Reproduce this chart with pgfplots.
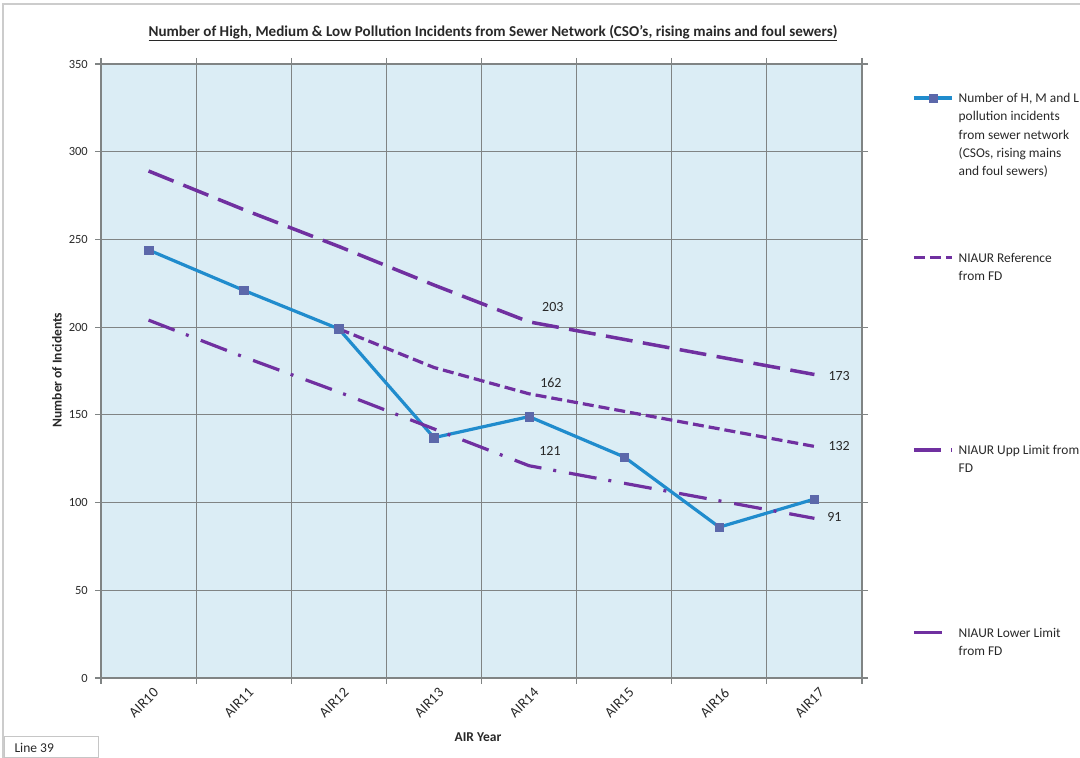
\documentclass[border=0pt]{standalone}
\usepackage{fontspec}
\setmainfont{Carlito}
\usepackage{pgfplots}
\pgfplotsset{compat=1.18}
\definecolor{blueline}{RGB}{32,140,205}
\definecolor{markfill}{RGB}{92,104,170}
\definecolor{purp}{RGB}{112,48,160}
\definecolor{plotbg}{RGB}{219,237,245}
\definecolor{gridc}{RGB}{128,132,132}
\definecolor{txt}{RGB}{40,40,40}
\begin{document}
\begin{tikzpicture}[x=1pt,y=1pt]
\path[use as bounding box] (0,0) rectangle (1080,758);
\draw[gray!40, line width=1.2pt] (3,0) -- (3,754) -- (1080,754);
\node[font=\fontsize{15.1}{17}\selectfont\bfseries, text=txt] at (493,725) {\underline{Number of High, Medium \& Low Pollution Incidents from Sewer Network (CSO's, rising mains and foul sewers)}};
\begin{axis}[
  at={(101pt,80pt)}, anchor=south west,
  width=761pt, height=614pt, scale only axis,
  xmin=-0.5, xmax=7.5, ymin=0, ymax=350,
  xtick={0,...,7},
  xticklabels={AIR10,AIR11,AIR12,AIR13,AIR14,AIR15,AIR16,AIR17},
  minor xtick={-0.5,0.5,...,7.5},
  ytick={0,50,...,350},
  xminorgrids=true, ymajorgrids=true, xmajorgrids=false,
  grid style={gridc, line width=1.2pt},
  minor grid style={gridc, line width=1.2pt},
  major x tick style={draw=none},
  tick align=outside,
  major tick length=6pt, minor tick length=6pt,
  every tick/.style={gridc, line width=1.2pt},
  axis line style={gridc, line width=1.2pt},
  axis background/.style={fill=plotbg},
  tick label style={font=\fontsize{12.5}{15}\selectfont, text=txt},
  /pgf/number format/assume math mode=true,
  xticklabel style={font=\fontsize{14.5}{17}\selectfont, xshift=4pt, rotate=45, anchor=north east, inner sep=2pt},
  yticklabel style={inner sep=2pt, xshift=-5pt},
  xlabel={\textbf{AIR Year}}, ylabel={\textbf{Number of Incidents}},
  label style={font=\fontsize{13.5}{16}\selectfont, text=txt},
  xlabel style={at={(axis description cs:0.4954,-0.0961)}, anchor=center},
  ylabel style={at={(axis description cs:-0.0578,0.5016)}, anchor=center},
  legend image code/.code={\draw[mark repeat=2,mark phase=2,yshift=4.5pt,#1] plot coordinates {(0pt,0pt) (19pt,0pt) (38pt,0pt)};},
  legend style={at={(axis description cs:1.0657,0.9528)}, anchor=north west, draw=none, fill=none,
    inner sep=0pt, row sep=0pt, column sep=5pt, cells={anchor=base west},
    nodes={inner sep=0pt, text depth=, text=txt, font=\fontsize{13.4}{18.3}\selectfont}},
  clip=false,
]
\addplot[blueline, line width=3.2pt, mark=square*, mark size=4.2pt, mark options={fill=markfill, draw=markfill, solid, line width=0.5pt}]
  coordinates {(0,244)(1,221)(2,199)(3,137)(4,149)(5,126)(6,86)(7,102)};
\addlegendentry{\parbox[t][160pt][t]{130pt}{\raggedright Number of H, M and L\\pollution incidents\\from sewer network\\(CSOs, rising mains\\and foul sewers)}}
\addplot[purp, line width=3.2pt, dash pattern=on 11pt off 5pt]
  coordinates {(2,199)(3,177)(4,162)(5,152)(6,142)(7,132)};
\addlegendentry{\parbox[t][192pt][t]{130pt}{\raggedright NIAUR Reference\\from FD}}
\addplot[purp, line width=3.5pt, dash pattern=on 27pt off 10.5pt]
  coordinates {(0,289)(1,267)(2,246)(3,224)(4,203)(5,193)(6,183)(7,173)};
\addlegendentry{\parbox[t][183pt][t]{130pt}{\raggedright NIAUR Upp Limit from\\FD}}
\addplot[purp, line width=3.2pt, dash pattern=on 28pt off 12pt on 3pt off 13pt]
  coordinates {(0,204)(1,183)(2,163)(3,142)(4,121)(5,111)(6,101)(7,91)};
\addlegendentry{\parbox[t]{130pt}{\raggedright NIAUR Lower Limit\\from FD}}
\begin{scope}[every node/.style={font=\fontsize{14}{16}\selectfont, text=txt}]
\node at (axis cs:4.25,211.5) {203};
\node at (axis cs:4.23,168.2) {162};
\node at (axis cs:4.22,129.4) {121};
\node at (axis cs:7.26,172.2) {173};
\node at (axis cs:7.26,132.3) {132};
\node at (axis cs:7.21,91.8) {91};
\end{scope}
\end{axis}
\draw[gray!45, line width=1pt, fill=white] (4,0) rectangle (98,21);
\node[anchor=west, font=\fontsize{13.5}{16}\selectfont, text=txt] at (11,10.5) {Line 39};
\end{tikzpicture}
\end{document}
